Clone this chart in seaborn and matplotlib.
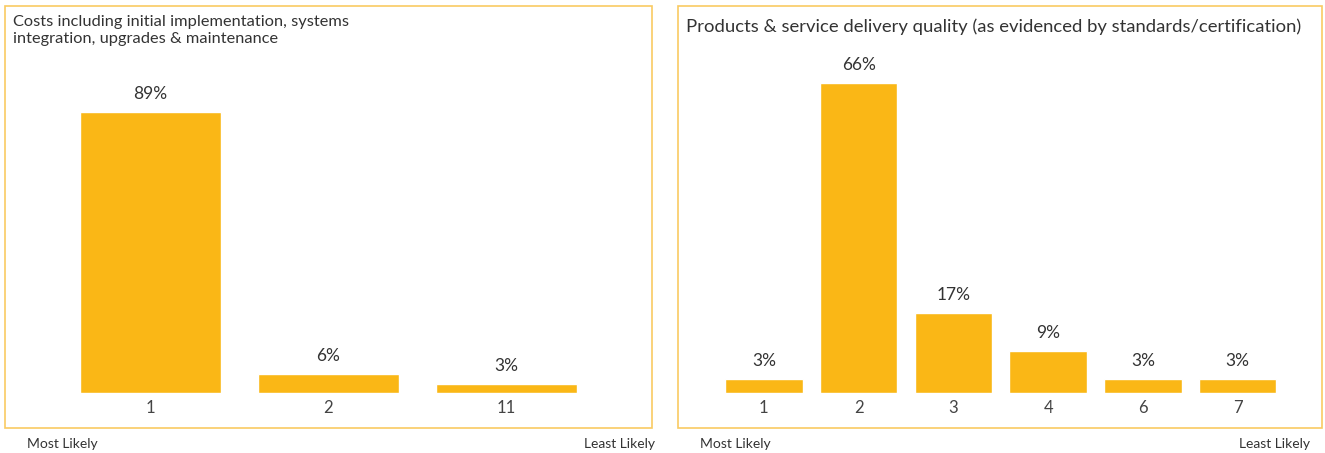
import matplotlib
matplotlib.use("Agg")
import matplotlib.pyplot as plt
import seaborn as sns
import pandas as pd
from matplotlib.patches import Rectangle

# Survey rank distributions (percent of respondents choosing each rank)
cost_ranks = ["1", "2", "11"]
cost_values = [89, 6, 3]
cost_title = "Costs including initial implementation, systems\nintegration, upgrades & maintenance"

quality_ranks = ["1", "2", "3", "4", "6", "7"]
quality_values = [3, 66, 17, 9, 3, 3]
quality_title = "Products & service delivery quality (as evidenced by standards/certification)"

BAR = "#FAB716"
FRAME = "#F9CB62"
TEXT = "#333333"

sns.set_style("white")
plt.rcParams["font.family"] = ["Lato", "DejaVu Sans"]

W, H = 1325, 453
fig = plt.figure(figsize=(W / 100, H / 100), dpi=100)


def px_axes(x0, y0, x1, y1):
    """Axes from pixel box (top-left origin)."""
    return fig.add_axes([x0 / W, 1 - y1 / H, (x1 - x0) / W, (y1 - y0) / H])


def frame(x0, y0, x1, y1):
    fig.patches.append(Rectangle((x0 / W, 1 - y1 / H), (x1 - x0) / W, (y1 - y0) / H,
                                 transform=fig.transFigure, fill=False,
                                 edgecolor=FRAME, linewidth=1.2))


def panel(ranks, values, box, ax_box, ymax, width, title, title_size,
          title_y, least_x):
    frame(*box)
    ax = px_axes(*ax_box)
    df = pd.DataFrame({"rank": ranks, "pct": values})
    sns.barplot(data=df, x="rank", y="pct", order=ranks, color=BAR,
                saturation=1, width=width, ax=ax)
    ax.set_ylim(0, ymax)
    ax.set_xlim(-0.5, len(ranks) - 0.5)
    for p, v in zip(ax.patches, values):
        ax.annotate(f"{v}%", (p.get_x() + p.get_width() / 2, p.get_height()),
                    xytext=(0, 7), textcoords="offset points",
                    ha="center", va="bottom", fontsize=12.5, color=TEXT)
    ax.set_xlabel("")
    ax.set_ylabel("")
    ax.set_yticks([])
    ax.tick_params(axis="x", length=0, pad=5, labelsize=12, labelcolor="#444444")
    sns.despine(ax=ax, left=True, bottom=True)
    ax.patch.set_alpha(0)
    fig.text((box[0] + 8) / W, 1 - title_y / H, title, ha="left", va="top",
             fontsize=title_size, color=TEXT, linespacing=1.3)
    fig.text((box[0] + 22) / W, 1 - 444 / H, "Most Likely", ha="left",
             va="center", fontsize=10, color=TEXT)
    fig.text(least_x / W, 1 - 444 / H, "Least Likely", ha="right",
             va="center", fontsize=10, color=TEXT)
    return ax


# Left panel: 89% spans 281 px above the baseline
panel(cost_ranks, cost_values, (5, 6, 652, 428), (61.5, 60, 595.5, 393),
      333 / (281 / 89), 0.79, cost_title, 11.8, 15, 655)

# Right panel: 66% spans 310 px above the baseline
panel(quality_ranks, quality_values, (678, 6, 1322, 428), (716.5, 60, 1285, 393),
      333 / (310 / 66), 0.82, quality_title, 13.3, 18, 1310)

fig.savefig("out.png", dpi=100, facecolor="white")
